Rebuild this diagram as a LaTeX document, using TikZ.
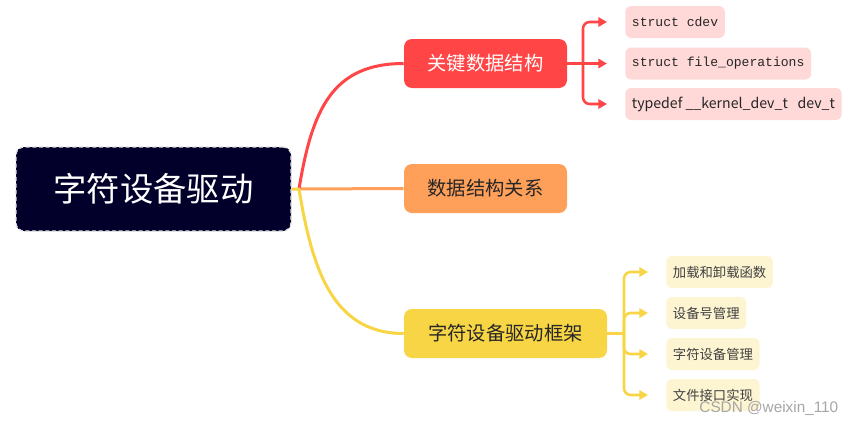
\documentclass[tikz,border=0pt]{standalone}
\usepackage{fontspec}
\setmainfont{Liberation Sans}
\setmonofont{Liberation Mono}
\newfontfamily\cjk{Noto Sans CJK SC}
\usetikzlibrary{arrows.meta,positioning}
\definecolor{mnavy}{HTML}{02002A}
\definecolor{mred}{HTML}{FF4545}
\definecolor{morange}{HTML}{FFA05A}
\definecolor{myellow}{HTML}{F7D544}
\definecolor{mpink}{HTML}{FFD8D8}
\definecolor{mcream}{HTML}{FDF4D2}
\tikzset{
  >={Triangle[length=6.5pt,width=7pt]},
  root/.style ={draw=gray!25, line width=1pt, dash pattern=on 3pt off 2pt, fill=mnavy,
                rounded corners=6pt, minimum width=206.25pt, minimum height=63pt,
                text=white, font=\cjk\fontsize{25}{30}\selectfont},
  topic/.style={rounded corners=6pt, minimum width=122.25pt, minimum height=36.75pt,
                text=black!85, font=\cjk\fontsize{14.5}{17}\selectfont},
  leaf/.style ={anchor=west, rounded corners=4.5pt, minimum height=24pt, inner xsep=5pt,
                font=\cjk\fontsize{10}{12}\selectfont},
  rleaf/.style={leaf, fill=mpink, text=black!85},
  yleaf/.style={leaf, fill=mcream, text=black!75},
  code/.style ={font=\ttfamily\fontsize{9.8}{12}\selectfont},
  link/.style ={draw=#1, line width=2.25pt},
  fork/.style ={draw=#1, line width=1.9pt, rounded corners=5pt, ->, shorten >=13.5pt},
  credit/.style={text=gray!70, font=\fontsize{11.5}{13}\selectfont}
}
\begin{document}
\begin{tikzpicture}[x=0.75pt,y=-0.75pt]
\useasboundingbox (0,0) rectangle (857,425);
\node[root] (drv) at (153.5,189) {字符设备驱动};
\node[topic, fill=mred, text=white] (kds) at (485.5,63.5) {关键数据结构};
\node[topic, fill=morange] (rel) at (485.5,188.5) {数据结构关系};
\node[topic, fill=myellow, minimum width=152.25pt] (frm) at (505.5,333.5) {字符设备驱动框架};
% key data structures
\node[rleaf, code] (cdev) at (625,22) {struct cdev};
\node[rleaf, code] (fops) at (625,63.5) {struct file\_operations};
\node[rleaf, font=\cjk\fontsize{10.6}{12}\selectfont] (devt) at (625,104)
  {typedef \_\_kernel\_dev\_t\hspace{0.7em}dev\_t};
% framework parts
\node[yleaf] (load) at (666,272) {加载和卸载函数};
\node[yleaf] (num)  at (666,313) {设备号管理};
\node[yleaf] (cmgr) at (666,354) {字符设备管理};
\node[yleaf] (fimp) at (666,395) {文件接口实现};
\node[credit, anchor=east] (csdn) at (843,408) {CSDN @weixin\_110};
% branches from the root
\coordinate (hub) at (299,189);
\draw[link=morange] (hub) -- (rel.west);
\draw[link=mred] (hub) .. controls (312,110) and (332,63.5) .. (kds.west);
\draw[link=myellow] (drv.east) -- (hub) .. controls (312,268) and (332,333.5) .. (frm.west);
% forks
\coordinate (rfork) at (583,63.5);
\draw[link=mred, line width=1.9pt] (kds.east) -- (rfork);
\draw[fork=mred] (rfork) |- (cdev.west);
\draw[fork=mred] (rfork) -- (fops.west);
\draw[fork=mred] (rfork) |- (devt.west);
\coordinate (yfork) at (624,333.5);
\draw[link=myellow, line width=1.9pt] (frm.east) -- (yfork);
\foreach \n in {load,num,cmgr,fimp}
  \draw[fork=myellow] (yfork) |- (\n.west);
\end{tikzpicture}
\end{document}
